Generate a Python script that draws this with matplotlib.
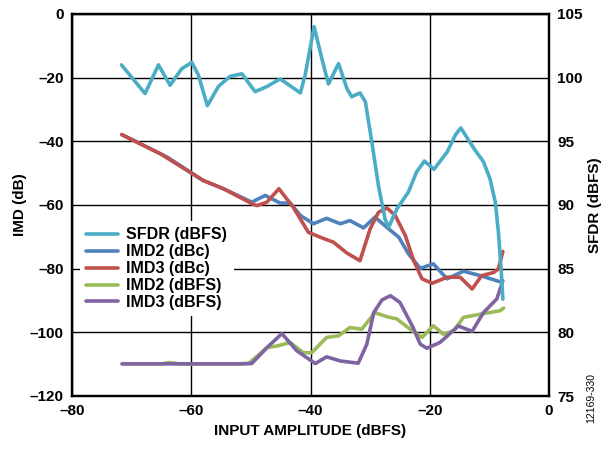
import matplotlib
matplotlib.use("Agg")
import matplotlib.pyplot as plt

plt.rcParams["font.family"] = ["Liberation Sans", "DejaVu Sans"]
plt.rcParams["font.weight"] = "bold"
plt.rcParams["lines.solid_joinstyle"] = "round"
plt.rcParams["lines.solid_capstyle"] = "round"

# SFDR (dBFS), right axis
sfdr_x = [-71.7, -67.75, -65.5, -63.55, -61.6, -59.9, -58.8, -57.3, -55.45, -53.5, -51.5,
          -49.3, -47.3, -45.1, -41.7, -40.9, -39.4, -38.1, -37.0, -35.3, -33.9, -33.1,
          -31.7, -30.8, -29.7, -28.6, -27.5, -26.9, -25.5, -23.6, -22.2, -20.9, -19.3,
          -17.1, -15.7, -14.8, -13.5, -12.4, -11.0, -9.9, -9.0, -8.5, -8.07, -7.74]
sfdr_y = [101.0, 98.75, 101.0, 99.4, 100.7, 101.2, 100.2, 97.8, 99.3, 100.1, 100.3,
          98.9, 99.3, 99.9, 98.8, 100.2, 104.0, 101.5, 99.5, 101.1, 99.15, 98.5,
          98.8, 98.1, 94.9, 91.5, 88.9, 88.25, 89.7, 91.0, 92.6, 93.45, 92.8,
          94.15, 95.5, 96.05, 95.1, 94.3, 93.4, 92.05, 90.2, 87.9, 85.2, 82.6]

# IMD2 (dBc)
imd2c_x = [-71.65, -65.2, -64.1, -58.0, -54.6, -49.85, -47.6, -45.1, -43.4, -41.7, -39.5,
           -37.3, -35.0, -33.4, -31.1, -29.2, -26.9, -25.2, -23.55, -21.6, -19.4, -17.1,
           -14.35, -11.5, -7.9]
imd2c_y = [-37.9, -43.9, -44.9, -52.3, -54.9, -59.1, -57.0, -59.4, -59.4, -63.3, -65.9,
           -64.2, -65.9, -64.9, -67.2, -63.8, -67.5, -70.1, -75.4, -79.9, -78.5, -83.2,
           -80.8, -82.2, -84.3]

# IMD3 (dBc)
imd3c_x = [-71.65, -65.2, -58.0, -54.6, -49.6, -49.0, -47.3, -45.3, -42.9, -40.35, -38.4,
           -36.15, -33.9, -31.7, -30.0, -28.6, -27.2, -25.8, -24.1, -22.7, -21.3, -19.6,
           -17.1, -14.9, -12.9, -11.3, -9.3, -8.5, -7.74]
imd3c_y = [-37.9, -43.9, -52.3, -54.9, -59.8, -60.2, -59.1, -54.9, -60.7, -68.6, -70.1,
           -71.7, -75.1, -77.5, -67.5, -62.3, -60.9, -63.3, -69.6, -77.5, -83.2, -84.6,
           -82.7, -82.7, -86.4, -82.2, -81.2, -80.1, -74.6]

# IMD2 (dBFS)
imd2f_x = [-71.6, -65.0, -63.6, -62.0, -52.0, -50.4, -47.3, -45.65, -43.4, -41.2, -39.8,
           -37.3, -35.3, -33.4, -31.4, -29.2, -27.2, -25.5, -23.3, -21.3, -19.4, -17.7,
           -16.0, -14.35, -11.5, -8.2, -7.6]
imd2f_y = [-109.9, -109.9, -109.5, -109.9, -109.9, -109.8, -104.8, -104.3, -103.2, -106.4, -106.4,
           -101.6, -101.1, -98.5, -99.0, -93.8, -95.1, -95.8, -99.0, -101.6, -97.95, -100.6,
           -99.5, -95.3, -94.3, -93.2, -92.4]

# IMD3 (dBFS)
imd3f_x = [-71.6, -60.0, -52.0, -49.85, -47.3, -44.8, -42.3, -39.2, -37.3, -35.0,
           -32.0, -30.55, -29.4, -28.0, -26.6, -25.0, -22.8, -21.6, -20.5, -18.3, -15.2,
           -12.9, -11.0, -8.75, -7.74]
imd3f_y = [-109.9, -109.9, -109.9, -109.8, -104.8, -100.4, -105.8, -109.8, -107.7, -109.0,
           -109.7, -103.7, -93.8, -89.8, -88.5, -90.6, -98.5, -103.7, -105.0, -103.2, -98.0,
           -99.7, -93.8, -89.5, -83.8]

x_ticks = [-80, -60, -40, -20, 0]
y_ticks = [0, -20, -40, -60, -80, -100, -120]
y2_ticks = [105, 100, 95, 90, 85, 80, 75]


def lab(v):
    return str(v).replace("-", "\u2013")


fig = plt.figure(figsize=(6.02, 4.5), dpi=100)
ax = fig.add_axes([0.1196, 0.12, 0.7924, 0.849])
ax2 = ax.twinx()

lw = 2.6
l1, = ax2.plot(sfdr_x, sfdr_y, color="#4BACC6", lw=lw, label="SFDR (dBFS)")
l2, = ax.plot(imd2c_x, imd2c_y, color="#4F81BD", lw=lw, label="IMD2 (dBc)")
l3, = ax.plot(imd3c_x, imd3c_y, color="#C0504D", lw=lw, label="IMD3 (dBc)")
l4, = ax.plot(imd2f_x, imd2f_y, color="#9BBB59", lw=lw, label="IMD2 (dBFS)")
l5, = ax.plot(imd3f_x, imd3f_y, color="#8064A2", lw=lw, label="IMD3 (dBFS)")

ax.set_xlim(-80, 0)
ax.set_ylim(-120, 0)
ax2.set_ylim(75, 105)
ax.set_xticks(x_ticks)
ax.set_xticklabels([lab(v) for v in x_ticks])
ax.set_yticks(y_ticks)
ax.set_yticklabels([lab(v) for v in y_ticks])
ax2.set_yticks(y2_ticks)
ax2.set_yticklabels([lab(v) for v in y2_ticks])

ax.grid(True, color="black", lw=1.0)
ax.tick_params(length=0, labelsize=11, pad=6)
ax2.tick_params(length=0, labelsize=11, pad=6)
for a in (ax, ax2):
    for s in a.spines.values():
        s.set_linewidth(1.6)

ax.set_xlabel("INPUT AMPLITUDE (dBFS)", fontsize=11, fontweight="bold", labelpad=4)
ax.set_ylabel("IMD (dB)", fontsize=11, fontweight="bold", labelpad=2)
ax2.set_ylabel("SFDR (dBFS)", fontsize=11, fontweight="bold", labelpad=4)

leg = ax2.legend(handles=[l1, l2, l3, l4, l5], loc="upper left",
                 bbox_to_anchor=(0.0, 0.479), frameon=True, fancybox=False,
                 edgecolor="none", facecolor="white", framealpha=1.0,
                 fontsize=11.5, handlelength=2.0, handletextpad=0.5,
                 labelspacing=0.12, borderpad=0.4)
for t in leg.get_texts():
    t.set_fontweight("bold")

fig.text(0.982, 0.06, "12169-330", rotation=90, fontsize=7.5, fontweight="normal",
         ha="center", va="bottom")

fig.savefig("out.png", dpi=100)
